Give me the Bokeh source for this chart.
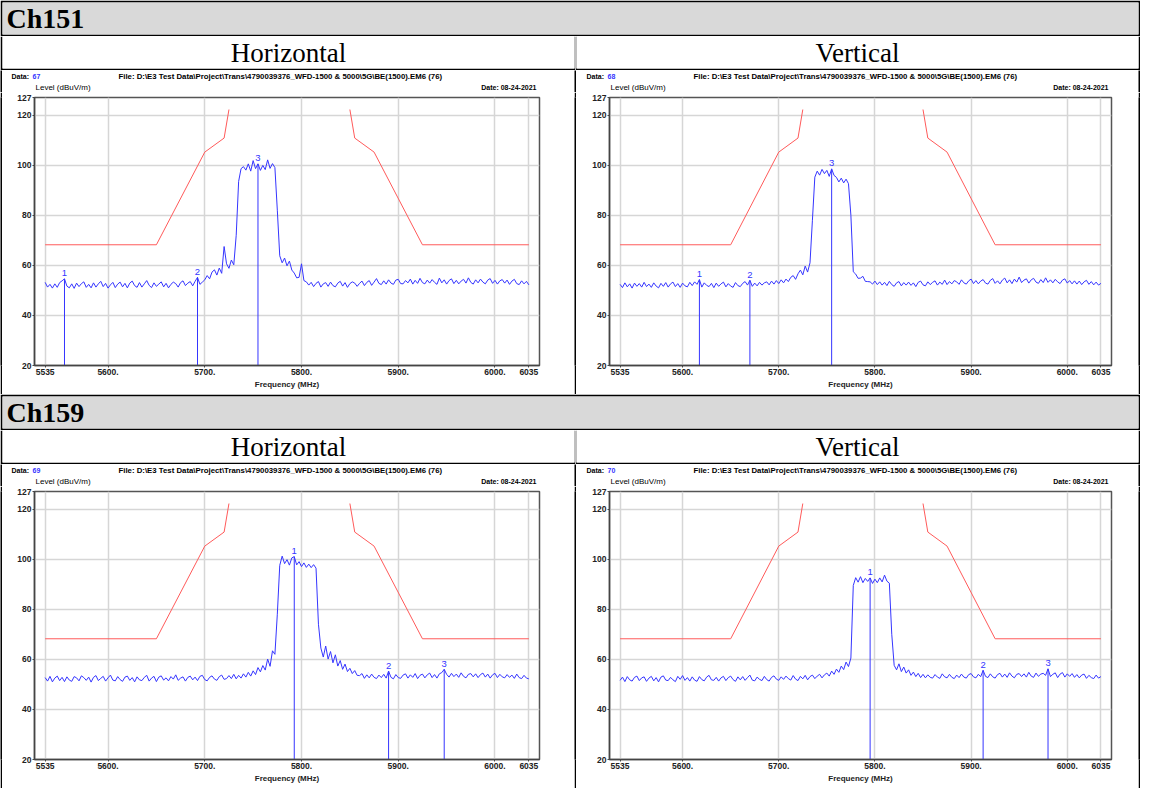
from bokeh.plotting import figure
from bokeh.layouts import column, row
from bokeh.models import Label, FixedTicker, Range1d, ColumnDataSource
from bokeh.embed import file_html
from bokeh.resources import INLINE
from bokeh.core.properties import value

# ---------------- data ----------------
CHANNELS = ["Ch151", "Ch159"]
POLARIZATIONS = ["Horizontal", "Vertical"]
DATA_NOS = [[67, 68], [69, 70]]
FILE_TEXT = "File: D:\\E3 Test Data\\Project\\Trans\\4790039376_WFD-1500 & 5000\\5G\\BE(1500).EM6  (76)"
DATE_TEXT = "Date: 08-24-2021"
Y_TITLE = "Level (dBuV/m)"
X_TITLE = "Frequency (MHz)"

X_TICKS = [5535, 5600, 5700, 5800, 5900, 6000, 6035]
X_TICK_LABELS = ["5535", "5600.", "5700.", "5800.", "5900.", "6000.", "6035"]
Y_TICKS = [20, 40, 60, 80, 100, 120, 127]

# sweep grid (MHz), 2.5 MHz steps from 5535 to 6035
FREQ = [5535 + 2.5 * i for i in range(201)]

# limit mask (dBuV/m)
LIMIT_LOW_F = [5535, 5650, 5700, 5720, 5725]
LIMIT_LOW_V = [68.2, 68.2, 105.2, 110.8, 122.2]
LIMIT_HIGH_F = [5850, 5855, 5875, 5925, 6035]
LIMIT_HIGH_V = [122.2, 110.8, 105.2, 68.2, 68.2]

CH151_H = [
    53.2, 51.3, 52.4, 50.9, 52.6, 51.2, 53.1, 53.8, 54.6, 51.7,
    51.0, 52.6, 50.8, 52.9, 51.5, 52.7, 53.4, 51.2, 52.4, 51.0,
    53.0, 51.3, 52.6, 53.6, 51.5, 52.8, 50.9, 52.2, 53.2, 51.1,
    52.5, 53.3, 51.4, 52.8, 51.0, 52.9, 53.7, 51.9, 51.2, 53.1,
    51.3, 52.6, 53.9, 52.0, 51.1, 53.0, 51.6, 52.5, 53.4, 51.4,
    52.8, 51.0, 52.4, 53.3, 52.7, 51.3, 53.1, 53.8, 51.9, 52.9,
    53.5, 51.8, 53.6, 55.2, 52.4, 53.3, 54.2, 55.9, 54.6, 57.3,
    58.2, 56.1, 58.9, 56.8, 67.5, 60.6, 58.8, 62.1, 60.2, 72.0,
    93.5, 98.6, 99.4, 98.0, 100.5, 97.6, 101.8, 98.6, 100.5, 97.9,
    99.9, 98.2, 102.1, 98.7, 100.6, 99.0, 82.0, 63.8, 61.0, 62.9,
    59.8, 61.7, 58.1, 56.9, 55.0, 55.2, 60.6, 53.9, 53.4, 52.1,
    53.2, 51.5, 52.8, 53.5, 51.3, 52.6, 53.1, 51.6, 53.3, 51.9,
    51.4, 52.9, 53.6, 51.7, 53.1, 51.2, 52.7, 53.4, 52.9, 51.6,
    52.8, 53.7, 51.9, 53.2, 53.9, 52.0, 53.3, 54.7, 52.8, 52.3,
    53.8, 52.5, 54.2, 52.9, 52.4, 54.1, 54.4, 52.7, 52.6, 53.9,
    53.0, 54.5, 52.5, 54.0, 52.8, 54.8, 53.1, 52.6, 54.1, 52.9,
    54.3, 53.2, 52.4, 54.9, 53.0, 54.2, 52.5, 53.9, 54.6, 52.7,
    54.0, 52.6, 53.7, 54.4, 52.9, 55.0, 53.2, 52.5, 54.2, 53.0,
    54.5, 53.3, 52.6, 54.1, 54.7, 52.8, 54.0, 52.5, 53.8, 54.3,
    52.9, 54.1, 52.4, 53.7, 54.4, 52.7, 52.3, 53.8, 52.6, 53.6, 52.2,
]
CH151_V = [
    52.4, 51.1, 53.0, 51.4, 52.6, 50.9, 52.9, 51.6, 52.7, 51.3,
    53.2, 51.5, 52.5, 51.2, 53.0, 51.7, 51.0, 52.8, 51.6, 53.1,
    51.3, 52.6, 53.3, 51.5, 52.7, 51.2, 52.9, 51.8, 51.4, 53.2,
    51.9, 53.4, 52.4, 54.3, 51.3, 53.0, 52.0, 51.5, 52.8, 51.1,
    52.9, 51.6, 52.6, 53.3, 51.4, 52.7, 51.7, 51.2, 53.1, 51.9,
    51.5, 52.8, 53.5, 52.1, 54.0, 51.6, 52.9, 51.8, 53.2, 52.1,
    53.0, 53.4, 52.2, 53.7, 52.5, 53.9, 52.7, 54.2, 53.0, 54.5,
    53.5, 55.2, 55.9, 54.4, 56.6, 58.1, 56.2, 59.7, 57.3, 61.0,
    78.0, 95.2, 97.6, 96.0, 98.3, 96.6, 97.9, 95.5, 98.5, 95.9,
    95.1, 93.3, 94.8, 92.9, 94.4, 92.6, 80.0, 57.4, 56.5, 54.8,
    54.9, 55.6, 53.6, 53.5, 53.4, 52.5, 53.7, 52.3, 53.4, 52.1,
    53.2, 51.9, 53.6, 52.3, 51.6, 53.0, 53.5, 51.8, 53.1, 52.1,
    53.3, 52.0, 53.0, 51.5, 53.2, 53.7, 52.2, 51.8, 53.4, 52.3,
    53.2, 53.8, 52.1, 53.3, 52.4, 54.1, 52.3, 53.5, 52.6, 53.9,
    53.4, 52.4, 54.2, 53.0, 52.5, 53.8, 54.5, 52.7, 53.9, 52.6,
    53.7, 54.3, 52.9, 52.5, 54.0, 54.7, 52.8, 53.8, 52.6, 54.1,
    54.9, 53.0, 54.2, 52.7, 54.5, 53.3, 55.3, 53.1, 54.1, 54.6,
    52.9, 54.2, 54.8, 53.3, 52.8, 54.3, 53.1, 55.0, 53.2, 54.2,
    53.0, 54.4, 53.4, 52.7, 54.1, 54.6, 52.9, 53.9, 52.6, 53.8,
    52.5, 53.7, 52.3, 53.4, 54.0, 52.4, 53.5, 52.2, 53.3, 52.1, 52.8,
]
CH159_H = [
    52.7, 51.3, 53.2, 51.0, 52.5, 53.3, 51.5, 52.8, 51.1, 53.0,
    51.7, 51.2, 53.1, 52.6, 51.4, 53.4, 52.7, 51.6, 52.9, 50.9,
    52.8, 53.5, 51.5, 52.4, 53.2, 51.3, 52.6, 53.7, 51.7, 51.4,
    53.1, 51.9, 51.2, 52.9, 53.3, 51.6, 52.7, 51.0, 53.0, 51.8,
    51.5, 52.8, 53.6, 51.3, 52.5, 53.2, 51.1, 52.9, 53.4, 51.7,
    52.6, 51.4, 53.1, 52.1, 53.8, 51.6, 52.5, 53.0, 51.3, 52.8,
    53.3, 51.8, 52.9, 51.5, 53.2, 53.6, 51.9, 51.4, 52.8, 53.4,
    52.1, 51.6, 53.1, 53.7, 52.0, 52.3, 53.5, 52.3, 54.0, 52.2,
    53.6, 52.5, 54.2, 52.9, 54.8, 53.3, 55.4, 53.9, 56.7, 55.0,
    57.5, 55.7, 60.1, 57.2, 63.4, 62.0, 78.0, 97.5, 101.2, 98.2,
    99.8, 97.6, 100.5, 101.0, 97.7, 99.0, 97.0, 98.5, 96.7, 98.0,
    96.6, 97.8, 96.4, 74.0, 64.5, 60.9, 65.3, 60.1, 63.1, 58.6,
    61.8, 57.3, 59.5, 56.0, 58.1, 55.1, 56.4, 54.3, 55.5, 53.6,
    53.5, 54.3, 52.4, 53.8, 52.6, 54.1, 52.8, 52.3, 53.7, 52.7,
    54.0, 52.5, 55.3, 52.8, 52.2, 53.9, 52.7, 52.4, 53.7, 54.2,
    52.5, 53.8, 52.8, 54.3, 52.3, 53.6, 54.1, 52.6, 53.8, 54.5,
    52.7, 53.9, 52.5, 54.2, 54.7, 56.0, 54.0, 52.9, 54.4, 53.1,
    54.1, 52.8, 54.6, 53.2, 52.6, 54.0, 54.3, 53.0, 54.2, 52.7,
    53.9, 54.5, 52.9, 54.1, 52.5, 53.8, 54.4, 52.7, 54.0, 53.0,
    52.6, 53.9, 52.8, 53.7, 52.4, 54.1, 52.7, 52.3, 53.6, 52.5, 52.2,
]
CH159_V = [
    51.6, 52.9, 51.1, 53.1, 51.8, 51.3, 52.8, 53.3, 51.5, 52.6,
    53.0, 51.2, 52.5, 53.2, 51.4, 52.7, 51.0, 52.9, 53.4, 51.7,
    51.5, 52.8, 51.8, 51.1, 53.2, 52.0, 53.5, 51.6, 52.7, 51.3,
    53.0, 51.7, 51.2, 53.1, 51.9, 51.4, 52.9, 53.6, 51.8, 51.6,
    52.8, 51.3, 52.6, 53.2, 51.5, 52.7, 53.3, 51.9, 51.2, 53.0,
    51.8, 53.1, 51.6, 52.7, 53.7, 51.7, 51.4, 52.9, 52.0, 51.5,
    53.2, 51.9, 51.3, 52.8, 53.4, 52.1, 51.6, 53.0, 52.0, 53.3,
    52.3, 51.7, 53.5, 52.1, 51.5, 53.2, 52.2, 53.6, 51.8, 53.1,
    53.7, 52.3, 53.3, 54.0, 52.6, 53.8, 54.5, 53.3, 55.3, 54.0,
    56.1, 54.8, 57.3, 55.9, 58.9, 57.1, 60.5, 89.5, 92.6, 90.8,
    93.0, 90.6, 92.3, 91.1, 92.5, 90.3, 92.0, 90.6, 92.5, 90.9,
    93.6, 91.2, 90.4, 70.0, 57.6, 55.8, 58.2, 55.1, 56.9, 54.5,
    55.8, 53.6, 54.9, 53.1, 54.4, 52.7, 54.0, 52.6, 53.8, 52.8,
    52.5, 53.9, 52.9, 52.4, 54.2, 53.0, 52.6, 54.0, 52.8, 52.3,
    53.7, 52.7, 54.1, 52.9, 52.5, 53.9, 54.3, 53.0, 52.6, 54.0,
    53.1, 55.6, 53.2, 52.7, 54.2, 53.0, 52.5, 53.9, 54.4, 52.9,
    54.1, 52.8, 54.6, 53.3, 52.6, 54.0, 54.3, 53.1, 54.2, 52.9,
    54.8, 53.3, 52.8, 54.5, 53.2, 54.1, 54.4, 53.6, 56.2, 53.1,
    54.0, 54.6, 52.7, 54.1, 54.7, 52.9, 54.2, 53.2, 54.3, 52.8,
    53.9, 52.6, 53.7, 54.1, 52.4, 53.6, 52.7, 52.3, 53.7, 52.5, 53.1,
]
TRACES = [[CH151_H, CH151_V], [CH159_H, CH159_V]]

MARKERS = [
    [[5555.0, 5692.5, 5755.0], [5617.5, 5670.0, 5755.0]],
    [[5792.5, 5890.0, 5947.5], [5795.0, 5912.5, 5980.0]],
]

# ---------------- style / layout ----------------
SANS = "Liberation Sans"
SERIF = "Liberation Serif"
BLUE = "#3535ff"
RED = "#ff5a5a"
HEADER_BG = "#d9d9d9"

TOTAL_W = 1140
CELL_W = [572, 562]
HEADER_H, LABEL_H, PLOT_H = 36, 34, 324
STRIP_H = 22
ML = [32, 33]
MR = [35, 27]
MT, MB = 5, 29


def block(w, h, bg, top=0, right=0, bottom=0, left=0, border="black"):
    fw, fh = w - left - right, h - top - bottom
    p = figure(width=w, height=h, x_range=Range1d(0, fw), y_range=Range1d(0, fh),
               x_axis_type=None, y_axis_type=None, toolbar_location=None,
               output_backend="svg", min_border=0,
               min_border_top=top, min_border_right=right,
               min_border_bottom=bottom, min_border_left=left,
               background_fill_color=bg, border_fill_color=border,
               outline_line_color=None)
    return p


def header(text):
    p = block(TOTAL_W, HEADER_H, HEADER_BG, 2, 2, 2, 2)
    p.add_layout(Label(x=4, y=(HEADER_H - 4) / 2, text=text, text_font=SERIF,
                       text_font_style="bold", text_font_size="28px",
                       text_color="black", text_baseline="middle"))
    return p


def label_row():
    widths = [2 + CELL_W[0] + 1, 1 + CELL_W[1] + 2]
    borders = [(0, 1, 2, 2), (0, 2, 2, 1)]
    figs = []
    for w, b, txt in zip(widths, borders, POLARIZATIONS):
        p = block(w, LABEL_H, "white", *b)
        fw = w - b[1] - b[3]
        p.add_layout(Label(x=fw / 2, y=(LABEL_H - 2) / 2, text=txt, text_font=SERIF,
                           text_font_size="27px", text_align="center",
                           text_color="black", text_baseline="middle"))
        figs.append(p)
    return row(*figs)


def strip(col, data_no):
    w = CELL_W[col]
    fw = w - ML[col] - MR[col]
    p = block(w, STRIP_H, "white", border="white")

    def lab(x, y, text, color="black", style="bold", size="7.5px", align="left"):
        p.add_layout(Label(x=x, y=y, text=text, text_font=SANS, text_font_style=style,
                           text_font_size=size, text_color=color, text_align=align,
                           text_baseline="middle"))

    top_y = STRIP_H - 6
    low_y = 5
    lab(ML[col] - 23, top_y, "Data:", size="7px")
    lab(ML[col] - 2, top_y, str(data_no), color=BLUE, size="7px")
    lab(ML[col] + 84, top_y, FILE_TEXT, size="7.8px")
    lab(ML[col] + fw - 3, low_y, DATE_TEXT, size="7px", align="right")
    lab(ML[col] + 1, low_y, Y_TITLE, style="normal", size="8px")
    return p


def spectrum(col, levels, mk_freqs):
    w = CELL_W[col]
    p = figure(width=w, height=PLOT_H - STRIP_H, x_range=Range1d(5524, 6046),
               y_range=Range1d(20, 127), toolbar_location=None, output_backend="svg",
               min_border=0, min_border_left=ML[col], min_border_right=MR[col],
               min_border_top=MT, min_border_bottom=MB,
               background_fill_color="white", border_fill_color="white",
               outline_line_color="#555555", outline_line_width=1.5)
    p.xaxis.ticker = FixedTicker(ticks=X_TICKS)
    p.xaxis.major_label_overrides = dict(zip(X_TICKS, X_TICK_LABELS))
    p.yaxis.ticker = FixedTicker(ticks=Y_TICKS)
    p.xgrid.ticker = FixedTicker(ticks=X_TICKS)
    p.ygrid.ticker = FixedTicker(ticks=Y_TICKS)
    p.grid.grid_line_color = "#d6d6d6"
    p.grid.grid_line_width = 1.5
    for ax in (p.xaxis, p.yaxis):
        ax.axis_line_color = "#444444"
        ax.axis_line_width = 1.5
        ax.major_tick_in = 0
        ax.major_tick_out = 2
        ax.major_tick_line_color = "#444444"
        ax.minor_tick_line_color = None
        ax.major_label_text_font = SANS
        ax.major_label_text_font_style = "bold"
        ax.major_label_text_font_size = "8.5px"
        ax.major_label_text_color = "#222222"
    p.xaxis.major_label_standoff = 1
    p.yaxis.major_label_standoff = 1
    p.xaxis.axis_label = X_TITLE
    p.xaxis.axis_label_text_font = SANS
    p.xaxis.axis_label_text_font_style = "bold"
    p.xaxis.axis_label_text_font_size = "8px"
    p.xaxis.axis_label_text_color = "#222222"
    p.xaxis.axis_label_standoff = 2

    p.line(LIMIT_LOW_F, LIMIT_LOW_V, color=RED, line_width=1)
    p.line(LIMIT_HIGH_F, LIMIT_HIGH_V, color=RED, line_width=1)
    src = ColumnDataSource(dict(f=FREQ, v=levels))
    p.line("f", "v", source=src, color=BLUE, line_width=1)

    mk_v = [levels[FREQ.index(f)] for f in mk_freqs]
    mk_src = ColumnDataSource(dict(f=mk_freqs, base=[20] * len(mk_freqs), v=mk_v,
                                   ty=[v + 1.0 for v in mk_v],
                                   t=[str(i + 1) for i in range(len(mk_freqs))]))
    p.segment(x0="f", y0="base", x1="f", y1="v", source=mk_src, color=BLUE, line_width=1)
    p.text(x="f", y="ty", text="t", source=mk_src, text_align="center",
           text_baseline="bottom", text_font=value(SANS), text_font_size="9.5px",
           text_color=BLUE)
    return p


def vbar(h):
    return block(2, h, "black")


parts = []
for r, ch in enumerate(CHANNELS):
    parts.append(header(ch))
    parts.append(label_row())
    parts.append(row(vbar(STRIP_H), strip(0, DATA_NOS[r][0]), vbar(STRIP_H),
                     strip(1, DATA_NOS[r][1]), vbar(STRIP_H)))
    h = PLOT_H - STRIP_H
    parts.append(row(vbar(h), spectrum(0, TRACES[r][0], MARKERS[r][0]), vbar(h),
                     spectrum(1, TRACES[r][1], MARKERS[r][1]), vbar(h)))
parts.append(block(TOTAL_W, 2, "black"))

layout = column(*parts)
open("out.html", "w").write(file_html(layout, INLINE))
